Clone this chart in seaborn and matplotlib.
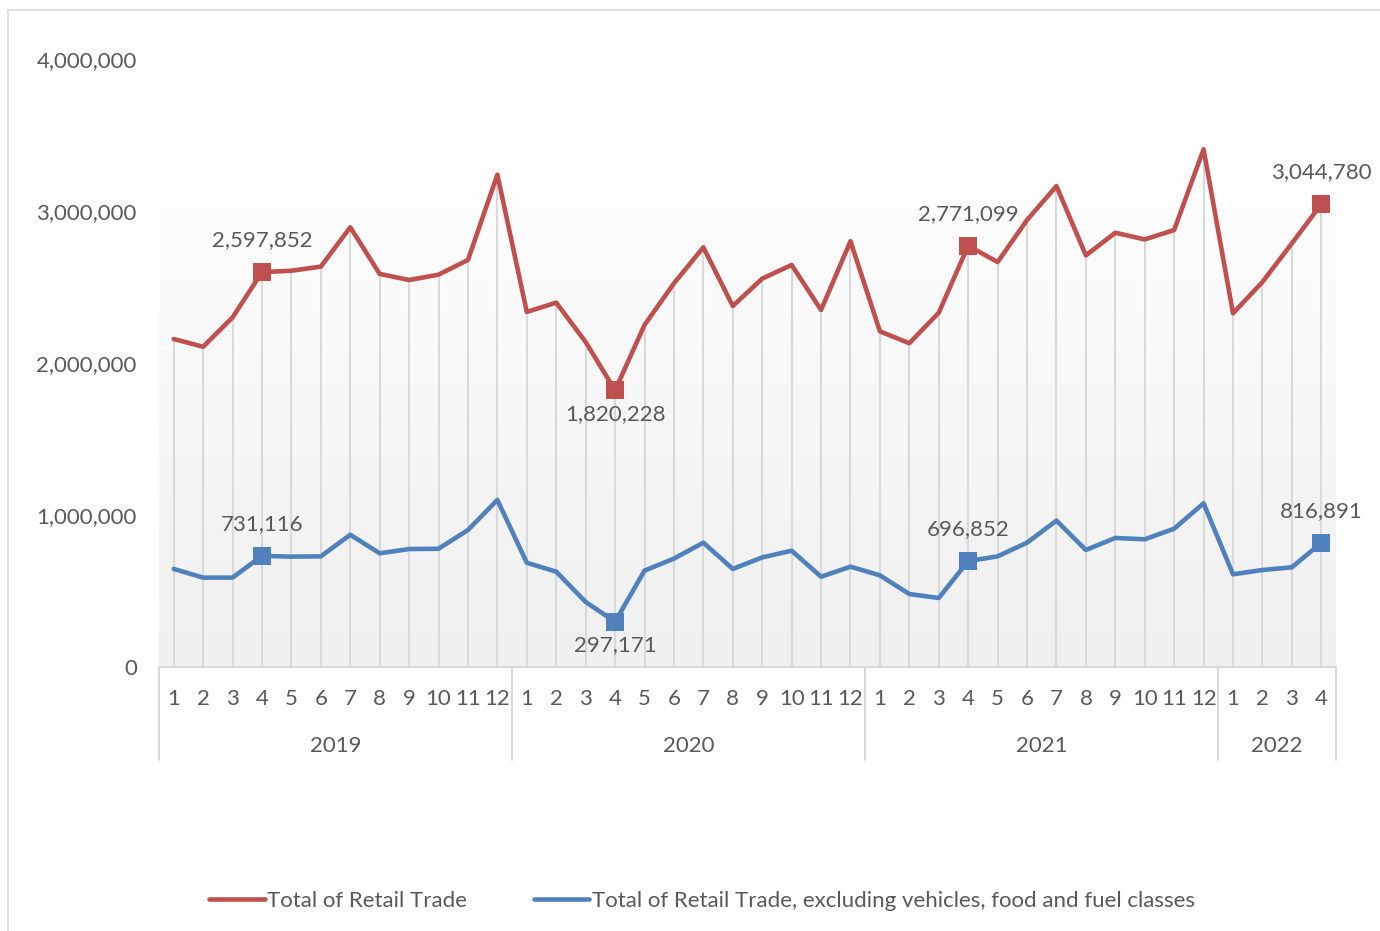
import matplotlib
matplotlib.use("Agg")
import matplotlib.pyplot as plt
import matplotlib.patches as patches
import matplotlib.transforms as mtransforms
from matplotlib.colors import LinearSegmentedColormap
from matplotlib.ticker import FuncFormatter
import seaborn as sns
import numpy as np
import pandas as pd

years = ["2019", "2020", "2021", "2022"]
months_per_year = [12, 12, 12, 4]

total_retail = [2158000, 2107000, 2300000, 2597852, 2607000, 2634000, 2893000, 2586000,
                2546000, 2581000, 2678000, 3239000,
                2336000, 2397000, 2138000, 1820228, 2250000, 2524000, 2761000, 2375000,
                2555000, 2645000, 2349000, 2801000,
                2208000, 2130000, 2331000, 2771099, 2664000, 2941000, 3164000, 2708000,
                2857000, 2813000, 2875000, 3406000,
                2327000, 2533000, 2787000, 3044780]
excl_retail = [645000, 588000, 588000, 731116, 726000, 728000, 870000, 748000,
               776000, 778000, 901000, 1099000,
               686000, 627000, 428000, 297171, 634000, 713000, 818000, 645000,
               721000, 765000, 594000, 660000,
               603000, 480000, 454000, 696852, 728000, 818000, 963000, 770000,
               849000, 840000, 910000, 1077000,
               610000, 638000, 656000, 816891]
highlight_idx = [3, 15, 27, 39]

red = "#C0504D"
blue = "#4F81BD"
txt = "#595959"
grid_c = "#d9d9d9"
fs = 16

sns.set_theme(style="white")
plt.rcParams["font.family"] = ["Lato", "DejaVu Sans"]

month_labels = [str(m) for n in months_per_year for m in range(1, n + 1)]
idx = np.arange(len(month_labels))
df = pd.DataFrame({"i": idx, "red": total_retail, "blue": excl_retail})

fig = plt.figure(figsize=(13.8, 9.31), dpi=100)
ax = fig.add_axes([159 / 1380, 1 - 667 / 931, (1336 - 159) / 1380, (667 - 59) / 931])

# outer chart border
fig.patches.append(patches.Rectangle((8 / 1380, -0.01), 1.0, 1 - 10 / 931 + 0.01,
                                     transform=fig.transFigure, fill=False,
                                     edgecolor=grid_c, lw=1.2))

# gradient plot area
cmap = LinearSegmentedColormap.from_list("g", ["#f0f0f0", "#ffffff"])
grad = np.linspace(0, 1, 256).reshape(-1, 1)
ax.imshow(grad, extent=(-0.5, len(idx) - 0.5, 0, 3.47e6), origin="lower",
          aspect="auto", cmap=cmap, zorder=0)

# drop lines
ax.vlines(idx, 0, total_retail, color=grid_c, lw=1.5, zorder=1)

sns.lineplot(data=df, x="i", y="red", color=red, lw=3.3, ax=ax, zorder=3,
             label="Total of Retail Trade")
sns.lineplot(data=df, x="i", y="blue", color=blue, lw=3.3, ax=ax, zorder=3,
             label="Total of Retail Trade, excluding vehicles, food and fuel classes")

for series, col in [(total_retail, red), (excl_retail, blue)]:
    xs = [idx[k] for k in highlight_idx]
    ys = [series[k] for k in highlight_idx]
    ax.scatter(xs, ys, marker="s", s=150, color=col, zorder=4, linewidths=0)
    for k in highlight_idx:
        below = (k == 15)
        ax.annotate(f"{series[k]:,}", (idx[k], series[k]),
                    xytext=(0, -17 if below else 23), textcoords="offset points",
                    ha="center", va="center", fontsize=fs, color=txt)

ax.set_xlim(-0.5, len(idx) - 0.5)
ax.set_ylim(0, 4000000)
ax.set_yticks([0, 1000000, 2000000, 3000000, 4000000])
ax.yaxis.set_major_formatter(FuncFormatter(lambda v, p: f"{int(v):,}"))
ax.tick_params(axis="y", length=0, pad=16, labelsize=fs, labelcolor=txt)
ax.set_xticks([])
ax.set_xlabel("")
ax.set_ylabel("")
for s in ["top", "right", "left"]:
    ax.spines[s].set_visible(False)
ax.spines["bottom"].set_color(grid_c)
ax.spines["bottom"].set_linewidth(1.5)
ax.patch.set_alpha(0)

# two-level category axis
trans = mtransforms.blended_transform_factory(ax.transData, ax.transAxes)
for i, lab in zip(idx, month_labels):
    ax.text(i, -32 / 608, lab, transform=trans, ha="center", va="center",
            fontsize=fs, color=txt)
start = 0
bounds = [-0.5]
for y, n in zip(years, months_per_year):
    ax.text(start + (n - 1) / 2, -79 / 608, y, transform=trans, ha="center",
            va="center", fontsize=fs, color=txt)
    start += n
    bounds.append(start - 0.5)
for b in bounds:
    ax.plot([b, b], [0, -93 / 608], transform=trans, color=grid_c, lw=1.5,
            clip_on=False)

ax.legend_.remove()
h, l = ax.get_legend_handles_labels()
fig.legend(h, l, loc="center", bbox_to_anchor=(702 / 1380, 1 - 901 / 931), ncol=2,
           frameon=False, fontsize=fs, labelcolor=txt, handlelength=2.5,
           handletextpad=0.12, columnspacing=3.0)

fig.savefig("out.png", dpi=100, facecolor="white")
